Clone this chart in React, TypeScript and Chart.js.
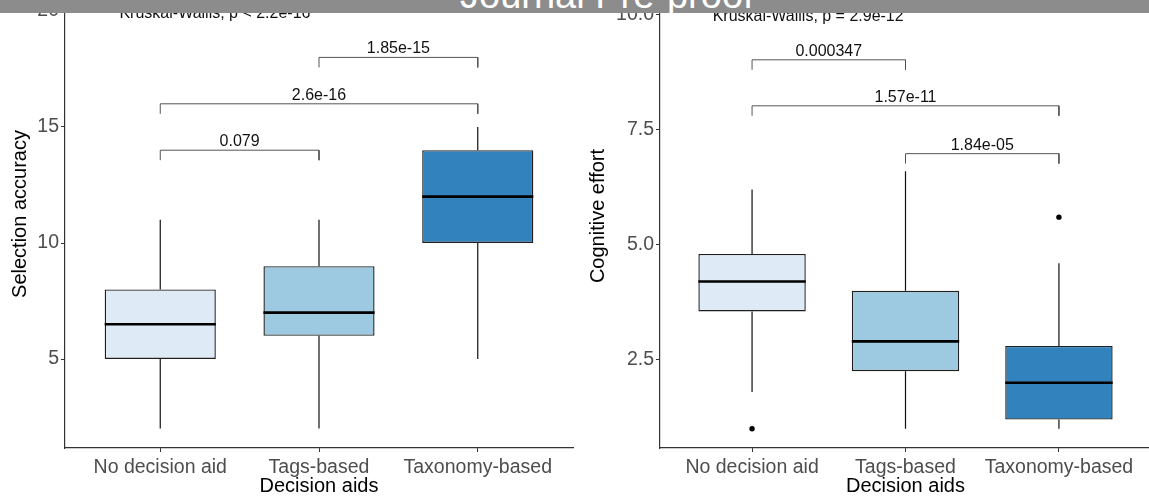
import React, { useEffect, useRef } from "react";
import { Chart, registerables } from "chart.js";

Chart.register(...registerables);

// ---------- data ----------
const CATEGORIES = ["No decision aid", "Tags-based", "Taxonomy-based"];
const BOX_FILLS = ["#DEEBF7", "#9ECAE1", "#3182BD"];

// Selection accuracy
const ACC_MIN = [2, 2, 5];
const ACC_Q1 = [5, 6, 10];
const ACC_MEDIAN = [6.5, 7, 12];
const ACC_Q3 = [8, 9, 14];
const ACC_MAX = [11, 11, 15];
const ACC_OUTLIERS: number[][] = [[], [], []];
const ACC_Y_TICKS = [5, 10, 15, 20];
const ACC_Y_LABELS = ["5", "10", "15", "20"];
const ACC_PAIRS = [[0, 1], [0, 2], [1, 2]];
const ACC_PAIR_Y = [14, 16, 18];
const ACC_PAIR_P = ["0.079", "2.6e-16", "1.85e-15"];
const ACC_KW = "Kruskal-Wallis, p < 2.2e-16";
const ACC_KW_Y = 19.9;

// Cognitive effort
const EFF_MIN = [1.8, 1.0, 1.0];
const EFF_Q1 = [3.55, 2.25, 1.2];
const EFF_MEDIAN = [4.2, 2.9, 2.0];
const EFF_Q3 = [4.8, 4.0, 2.8];
const EFF_MAX = [6.2, 6.6, 4.6];
const EFF_OUTLIERS: number[][] = [[1.0], [], [5.6]];
const EFF_Y_TICKS = [2.5, 5, 7.5, 10];
const EFF_Y_LABELS = ["2.5", "5.0", "7.5", "10.0"];
const EFF_PAIRS = [[0, 1], [0, 2], [1, 2]];
const EFF_PAIR_Y = [9.02, 8.02, 6.98];
const EFF_PAIR_P = ["0.000347", "1.57e-11", "1.84e-05"];
const EFF_KW = "Kruskal-Wallis, p = 2.9e-12";
const EFF_KW_Y = 9.97;

const X_TITLE = "Decision aids";

// ---------- style / layout ----------
const FONT = "'Liberation Sans', Arial, Helvetica, sans-serif";
const BOX_WIDTH = 0.7;
const TIP_FRAC = 0.0214;
const KW_X = 0.743;
const X_MIN = 0.4;
const X_MAX = 3.6;

type PanelSpec = {
  min: number[];
  q1: number[];
  med: number[];
  q3: number[];
  max: number[];
  outliers: number[][];
  yTicks: number[];
  yLabels: string[];
  pairs: number[][];
  pairY: number[];
  pairP: string[];
  kw: string;
  kwY: number;
  yTitle: string;
  yMin: number;
  yMax: number;
  yAxisWidth: number;
  yTitlePad: number;
  rightPad: number;
  left: number;
  width: number;
};

const PANELS: PanelSpec[] = [
  {
    min: ACC_MIN, q1: ACC_Q1, med: ACC_MEDIAN, q3: ACC_Q3, max: ACC_MAX,
    outliers: ACC_OUTLIERS, yTicks: ACC_Y_TICKS, yLabels: ACC_Y_LABELS,
    pairs: ACC_PAIRS, pairY: ACC_PAIR_Y, pairP: ACC_PAIR_P, kw: ACC_KW, kwY: ACC_KW_Y,
    yTitle: "Selection accuracy", yMin: 1.164, yMax: 21.336,
    yAxisWidth: 65, yTitlePad: 8, rightPad: 7, left: 0, width: 580,
  },
  {
    min: EFF_MIN, q1: EFF_Q1, med: EFF_MEDIAN, q3: EFF_Q3, max: EFF_MAX,
    outliers: EFF_OUTLIERS, yTicks: EFF_Y_TICKS, yLabels: EFF_Y_LABELS,
    pairs: EFF_PAIRS, pairY: EFF_PAIR_Y, pairP: EFF_PAIR_P, kw: EFF_KW, kwY: EFF_KW_Y,
    yTitle: "Cognitive effort", yMin: 0.582, yMax: 10.668,
    yAxisWidth: 80, yTitlePad: 6, rightPad: 4, left: 580, width: 575,
  },
];

const CANVAS_TOP = -20;
const CANVAS_HEIGHT = 524;
const X_AXIS_HEIGHT = 56;

function buildConfig(p: PanelSpec): any {
  const idx = CATEGORIES.map((_, i) => i);
  const tip = TIP_FRAC * (p.yMax - p.yMin);

  const medians = idx.flatMap((i) => [
    { x: i + 1 - BOX_WIDTH / 2, y: p.med[i] },
    { x: i + 1 + BOX_WIDTH / 2, y: p.med[i] },
    { x: i + 1, y: null },
  ]);
  const whiskers = idx.flatMap((i) => [
    { x: i + 1, y: p.q3[i] },
    { x: i + 1, y: p.max[i] },
    { x: i + 1, y: null },
    { x: i + 1, y: p.min[i] },
    { x: i + 1, y: p.q1[i] },
    { x: i + 1, y: null },
  ]);
  const outliers = idx.flatMap((i) => p.outliers[i].map((v) => ({ x: i + 1, y: v })));
  const boxes = idx.map((i) => ({ x: i + 1, y: [p.q1[i], p.q3[i]] }));

  const brackets = p.pairs.map(([a, b], k) => ({
    type: "line",
    data: [
      { x: a + 1, y: p.pairY[k] - tip },
      { x: a + 1, y: p.pairY[k] },
      { x: b + 1, y: p.pairY[k] },
      { x: b + 1, y: p.pairY[k] - tip },
    ],
    borderColor: "#555555",
    borderWidth: 1,
    pointRadius: 0,
    tension: 0,
    order: 1,
  }));

  const textPlugin = {
    id: "annotText",
    afterDatasetsDraw(chart: any) {
      const { ctx, scales } = chart;
      const xs = scales.x;
      const ys = scales.y;
      ctx.save();
      ctx.fillStyle = "#111111";
      ctx.font = `16px ${FONT}`;
      ctx.textAlign = "center";
      ctx.textBaseline = "alphabetic";
      p.pairs.forEach(([a, b], k) => {
        const cx = (xs.getPixelForValue(a + 1) + xs.getPixelForValue(b + 1)) / 2;
        const cy = ys.getPixelForValue(p.pairY[k]) - 4;
        ctx.fillText(p.pairP[k], cx, cy);
      });
      ctx.textAlign = "left";
      ctx.textBaseline = "middle";
      ctx.fillText(p.kw, xs.getPixelForValue(KW_X), ys.getPixelForValue(p.kwY));
      ctx.restore();
    },
  };

  return {
    type: "bar",
    data: {
      datasets: [
        {
          type: "line",
          data: medians,
          borderColor: "#000000",
          borderWidth: 2.6,
          borderCapStyle: "butt",
          pointRadius: 0,
          tension: 0,
          order: 0,
        },
        {
          type: "scatter",
          data: outliers,
          backgroundColor: "#000000",
          borderWidth: 0,
          pointRadius: 2.7,
          order: 0,
        },
        {
          type: "line",
          data: whiskers,
          borderColor: "#111111",
          borderWidth: 1.2,
          pointRadius: 0,
          tension: 0,
          order: 1,
        },
        ...brackets,
        {
          type: "bar",
          data: boxes,
          backgroundColor: BOX_FILLS,
          borderColor: "#1f1f1f",
          borderWidth: 1.4,
          borderSkipped: false,
          barPercentage: BOX_WIDTH,
          categoryPercentage: 1,
          order: 5,
        },
      ],
    },
    options: {
      animation: false,
      responsive: false,
      events: [],
      layout: { padding: { left: 0, right: p.rightPad, top: 0, bottom: 0 } },
      plugins: {
        legend: { display: false },
        tooltip: { enabled: false },
        title: { display: false },
      },
      scales: {
        x: {
          type: "linear",
          min: X_MIN,
          max: X_MAX,
          offset: false,
          grid: {
            display: true,
            drawOnChartArea: false,
            drawTicks: true,
            tickLength: 4,
            tickColor: "#333333",
            tickWidth: 1,
            offset: false,
          },
          border: { display: true, color: "#333333", width: 1.2 },
          ticks: {
            autoSkip: false,
            maxRotation: 0,
            minRotation: 0,
            padding: 4,
            color: "#4D4D4D",
            font: { family: FONT, size: 19.5 },
            callback: (v: number) => CATEGORIES[Math.round(v) - 1] ?? "",
          },
          title: {
            display: true,
            text: X_TITLE,
            color: "#000000",
            font: { family: FONT, size: 20 },
            padding: { top: 0, bottom: 6 },
          },
          afterBuildTicks: (s: any) => {
            s.ticks = CATEGORIES.map((_, i) => ({ value: i + 1 }));
          },
          afterFit: (s: any) => {
            s.height = X_AXIS_HEIGHT;
            s.paddingLeft = 0;
            s.paddingRight = 0;
          },
        },
        y: {
          type: "linear",
          min: p.yMin,
          max: p.yMax,
          grid: {
            display: true,
            drawOnChartArea: false,
            drawTicks: true,
            tickLength: 4,
            tickColor: "#333333",
            tickWidth: 1,
          },
          border: { display: true, color: "#333333", width: 1.2 },
          ticks: {
            autoSkip: false,
            padding: 2,
            color: "#4D4D4D",
            font: { family: FONT, size: 19.5 },
            callback: (v: number) => {
              const k = p.yTicks.indexOf(v);
              return k >= 0 ? p.yLabels[k] : "";
            },
          },
          title: {
            display: true,
            text: p.yTitle,
            color: "#000000",
            font: { family: FONT, size: 20 },
            padding: { top: p.yTitlePad, bottom: 0 },
          },
          afterBuildTicks: (s: any) => {
            s.ticks = p.yTicks.map((v) => ({ value: v }));
          },
          afterFit: (s: any) => {
            s.width = p.yAxisWidth;
            s.paddingTop = 0;
            s.paddingBottom = 0;
          },
        },
      },
    },
    plugins: [textPlugin],
  };
}

function Panel({ spec }: { spec: PanelSpec }) {
  const ref = useRef<HTMLCanvasElement | null>(null);
  useEffect(() => {
    if (!ref.current) return;
    const chart = new Chart(ref.current, buildConfig(spec));
    return () => chart.destroy();
  }, [spec]);
  return (
    <canvas
      ref={ref}
      width={spec.width}
      height={CANVAS_HEIGHT}
      style={{
        position: "absolute",
        left: spec.left,
        top: CANVAS_TOP,
        width: spec.width,
        height: CANVAS_HEIGHT,
      }}
    />
  );
}

export default function App() {
  return (
    <div
      style={{
        position: "fixed",
        left: 0,
        top: 0,
        width: 1149,
        height: 504,
        overflow: "hidden",
        background: "#ffffff",
      }}
    >
      {PANELS.map((p, i) => (
        <Panel key={i} spec={p} />
      ))}
      <div
        style={{
          position: "absolute",
          left: 0,
          top: 0,
          width: 1149,
          height: 13,
          background: "#8c8c8c",
          overflow: "hidden",
          zIndex: 2,
        }}
      >
        <span
          style={{
            position: "absolute",
            left: 460,
            top: -24,
            fontFamily: FONT,
            fontSize: 38,
            lineHeight: "38px",
            color: "#ffffff",
            whiteSpace: "nowrap",
          }}
        >
          Journal Pre-proof
        </span>
      </div>
    </div>
  );
}
